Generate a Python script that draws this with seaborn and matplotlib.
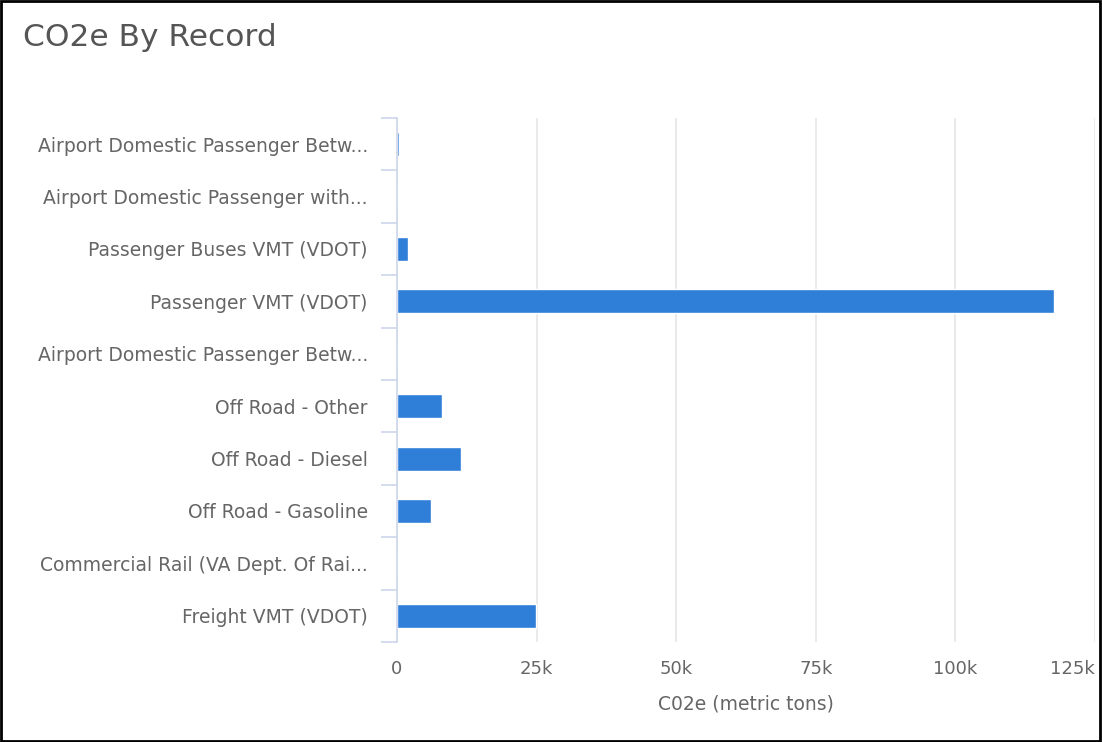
import matplotlib
matplotlib.use("Agg")
import matplotlib.pyplot as plt
import seaborn as sns
import numpy as np
import pandas as pd
from matplotlib.patches import Rectangle
from matplotlib.ticker import FixedLocator

categories = [
    "Airport Domestic Passenger Betw...",
    "Airport Domestic Passenger with...",
    "Passenger Buses VMT (VDOT)",
    "Passenger VMT (VDOT)",
    "Airport Domestic Passenger Betw...",
    "Off Road - Other",
    "Off Road - Diesel",
    "Off Road - Gasoline",
    "Commercial Rail (VA Dept. Of Rai...",
    "Freight VMT (VDOT)",
]
values = [350, 0, 2000, 117700, 0, 8050, 11450, 6000, 0, 24900]
x_ticks = [0, 25000, 50000, 75000, 100000, 125000]
x_tick_labels = ["0", "25k", "50k", "75k", "100k", "125k"]

sns.set_theme(style="white")
plt.rcParams["font.family"] = ["DejaVu Sans"]

W, H = 1102, 742
fig = plt.figure(figsize=(W / 100, H / 100), dpi=100)
ax = fig.add_axes([397 / W, 1 - 642 / H, (1095 - 397) / W, (642 - 118) / H])

df = pd.DataFrame({"key": [str(i) for i in range(len(categories))], "value": values})
sns.barplot(data=df, x="value", y="key", orient="h", color="#2f7ed8",
            saturation=1, width=0.46, ax=ax, order=df["key"].tolist())

ax.set_xlim(0, 125000)
ax.set_ylim(len(categories) - 0.5, -0.5)
ax.xaxis.set_major_locator(FixedLocator(x_ticks))
ax.set_xticklabels(x_tick_labels)
ax.get_xticklabels()[-1].set_horizontalalignment("right")
ax.set_yticks(range(len(categories)))
ax.set_yticklabels(categories)

for s in ["top", "right", "bottom"]:
    ax.spines[s].set_visible(False)
ax.spines["left"].set_color("#ccd6eb")
ax.spines["left"].set_linewidth(1.2)

ax.grid(axis="x", color="#e6e6e6", linewidth=1.2)
ax.set_axisbelow(True)

ax.tick_params(axis="x", length=0, pad=13, labelsize=13, labelcolor="#666666")
ax.tick_params(axis="y", which="major", length=0, pad=21, labelsize=13.5, labelcolor="#666666")
ax.set_yticks(np.arange(-0.5, len(categories), 1.0), minor=True)
ax.tick_params(axis="y", which="minor", length=11.5, width=1.2, color="#ccd6eb", left=True)

ax.set_xlabel("C02e (metric tons)", fontsize=13.5, color="#666666", labelpad=12)
ax.set_ylabel("")

fig.text(23 / W, 1 - 38 / H, "CO2e By Record", fontsize=22.5, color="#555555",
         ha="left", va="center")

fig.patches.append(Rectangle((0.001, 0.002), 0.997, 0.996, transform=fig.transFigure,
                             fill=False, edgecolor="black", linewidth=2))

fig.savefig("out.png", dpi=100, facecolor="white")
